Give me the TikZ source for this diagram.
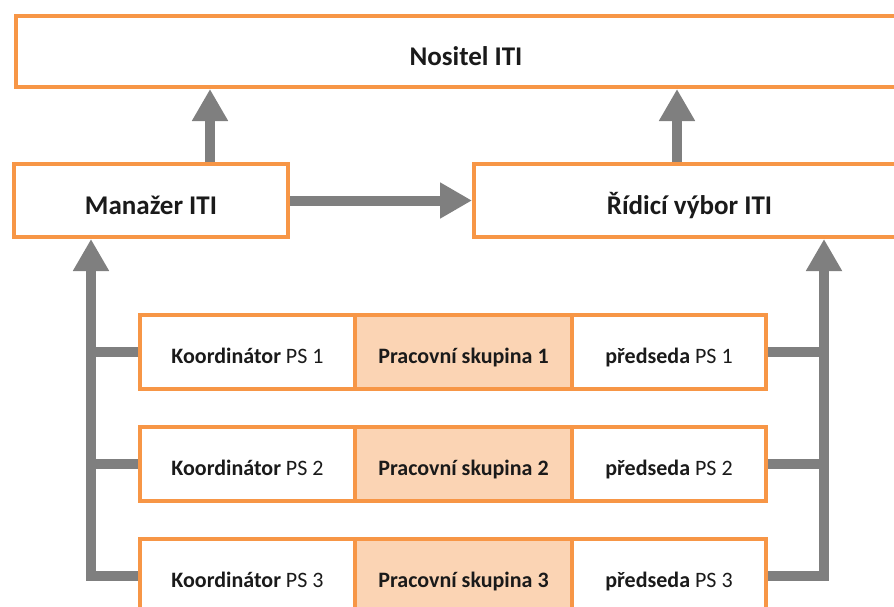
\documentclass[tikz,border=0pt]{standalone}
\usepackage{fontspec}
\setmainfont{Carlito}
\usetikzlibrary{arrows.meta}
\definecolor{boxorange}{HTML}{F79646}
\definecolor{cellfill}{HTML}{FBD4B4}
\definecolor{linkgray}{HTML}{7F7F7F}
\definecolor{inktext}{HTML}{1A1A1A}
\begin{document}
\begin{tikzpicture}[x=1pt,y=-1pt,
  box/.style={draw=boxorange, line width=4pt, fill=white, inner sep=0pt, text=inktext},
  title/.style={box, minimum height=73pt, text height=30pt, text depth=3pt,
    font=\fontsize{27}{32}\selectfont\bfseries},
  cell/.style={box, minimum height=74pt, text height=24pt, text depth=2pt,
    font=\fontsize{22}{26}\selectfont},
  coord/.style={cell, minimum width=215pt},
  group/.style={cell, minimum width=217pt, fill=cellfill},
  chair/.style={cell, minimum width=194pt},
  bar/.style={draw=linkgray, line width=10pt},
  arr/.style={bar, -{Triangle[length=32pt,width=34pt]}},
]
\useasboundingbox (0,0) rectangle (894,606);
\clip (0,0) rectangle (894,606);

% top level
\node[title, minimum width=900pt, minimum height=71pt] (nos) at (466,51.5) {Nositel ITI};
\node[title, minimum width=274pt] (man) at (151,200.5) {Manažer ITI};
\node[title, minimum width=431pt] (rid) at (689.5,200.5) {Řídicí výbor ITI};

% working groups
\foreach \i/\y in {1/352,2/464,3/576}{
  \node[coord] (k\i) at (247.5,\y) {\textbf{Koordinátor} PS \i};
  \node[group] (p\i) at (463.5,\y) {\textbf{Pracovní skupina \i}};
  \node[chair] (c\i) at (669,\y) {\textbf{předseda} PS \i};
}

% bus lines
\coordinate (lb) at (91,0);
\coordinate (rb) at (824,0);
\coordinate (ul) at (210,0);
\coordinate (ur) at (677,0);

\draw[arr] (ul |- man.north) -- (ul |- nos.south);
\draw[arr] (ur |- rid.north) -- (ur |- nos.south);
\draw[arr] (man.east) -- (rid.west);

\draw[bar] (k1.west) -- (k1.west -| lb);
\draw[bar] (k2.west) -- (k2.west -| lb);
\draw[arr] (k3.west) -| (lb |- man.south);

\draw[bar] (c1.east) -- (c1.east -| rb);
\draw[bar] (c2.east) -- (c2.east -| rb);
\draw[arr] (c3.east) -| (rb |- rid.south);
\end{tikzpicture}
\end{document}
